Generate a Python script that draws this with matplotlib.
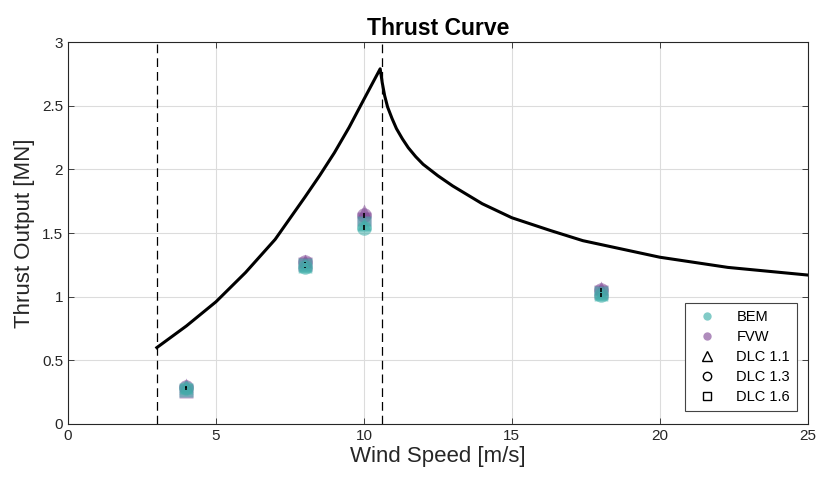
import numpy as np
import matplotlib.pyplot as plt

plt.rcParams['font.family'] = ['Liberation Sans', 'DejaVu Sans']

# steady thrust curve [MN] vs wind speed [m/s]
curve_ws = [3, 4, 5, 6, 7, 8, 8.5, 9, 9.5, 10, 10.55, 10.62, 10.7, 10.8, 10.95,
            11.1, 11.3, 11.5, 11.75, 12.0, 12.5, 13, 14, 15, 16.3, 17.4, 18.6,
            20, 22.3, 25]
curve_thrust = [0.60, 0.77, 0.96, 1.19, 1.45, 1.78, 1.95, 2.13, 2.33, 2.55, 2.79,
                2.68, 2.58, 2.49, 2.40, 2.32, 2.24, 2.17, 2.10, 2.04, 1.95, 1.87,
                1.73, 1.62, 1.52, 1.44, 1.38, 1.31, 1.23, 1.17]

cut_in = 3
rated = 10.6

# simulated mean thrust per load case
sim_ws = [4, 8, 10, 18]
bem_dlc11 = [0.29, 1.24, 1.57, 1.02]
bem_dlc13 = [0.28, 1.23, 1.54, 1.01]
bem_dlc16 = [0.27, 1.25, 1.58, 1.03]
fvw_dlc11 = [0.31, 1.28, 1.67, 1.07]
fvw_dlc13 = [0.29, 1.27, 1.64, 1.05]
fvw_dlc16 = [0.26, 1.26, 1.61, 1.04]
bem_std13 = [0.01, 0.005, 0.02, 0.015]
fvw_std13 = [0.01, 0.005, 0.02, 0.015]

bem_color = '#3fb0aa'
fvw_color = '#7a3f90'

fig = plt.figure(figsize=(8.2, 4.78), dpi=100)
ax = fig.add_axes([0.083, 0.113, 0.902, 0.799])

ax.plot(curve_ws, curve_thrust, color='k', lw=2.2, zorder=3)
ax.axvline(cut_in, color='k', ls=(0, (7, 4)), lw=0.9, zorder=2)
ax.axvline(rated, color='k', ls=(0, (7, 4)), lw=0.9, zorder=2)

ms = 10.5
for vals, mk in [(fvw_dlc11, '^'), (fvw_dlc13, 'o'), (fvw_dlc16, 's')]:
    ax.plot(sim_ws, vals, ls='none', marker=mk, ms=ms, color=fvw_color,
            alpha=0.5, mec='none', zorder=4)
for vals, mk in [(bem_dlc11, '^'), (bem_dlc13, 'o'), (bem_dlc16, 's')]:
    ax.plot(sim_ws, vals, ls='none', marker=mk, ms=ms, color=bem_color,
            alpha=0.55, mec='none', zorder=4)
ax.errorbar(sim_ws, bem_dlc13, yerr=bem_std13, ls='none', color='k', lw=1.2,
            capsize=0, zorder=5)
ax.errorbar(sim_ws, fvw_dlc13, yerr=fvw_std13, ls='none', color='k', lw=1.2,
            capsize=0, zorder=5)

# legend proxies
h = [
    ax.plot([], [], ls='none', marker='o', ms=6, color=bem_color, alpha=0.65, mec='none')[0],
    ax.plot([], [], ls='none', marker='o', ms=6, color=fvw_color, alpha=0.6, mec='none')[0],
    ax.plot([], [], ls='none', marker='^', ms=7, mfc='none', mec='k')[0],
    ax.plot([], [], ls='none', marker='o', ms=6, mfc='none', mec='k')[0],
    ax.plot([], [], ls='none', marker='s', ms=5.5, mfc='none', mec='k')[0],
]
leg = ax.legend(h, ['BEM', 'FVW', 'DLC 1.1', 'DLC 1.3', 'DLC 1.6'],
                loc='lower right', bbox_to_anchor=(0.986, 0.034), borderaxespad=0,
                fontsize=10.5, fancybox=False, framealpha=1, edgecolor='#444444',
                handletextpad=1.0, borderpad=0.5, labelspacing=0.4)
leg.get_frame().set_linewidth(0.8)

ax.set_xlim(0, 25)
ax.set_ylim(0, 3)
ax.set_xticks([0, 5, 10, 15, 20, 25])
ax.set_yticks([0, 0.5, 1, 1.5, 2, 2.5, 3])
ax.set_yticklabels(['0', '0.5', '1', '1.5', '2', '2.5', '3'])
ax.grid(True, color='#dcdcdc', lw=0.8)
ax.set_axisbelow(True)
ax.tick_params(direction='in', top=True, right=True, labelsize=11,
               colors='#262626', length=4, width=0.6)
for s in ax.spines.values():
    s.set_color('#262626')
    s.set_linewidth(0.8)

ax.set_xlabel('Wind Speed [m/s]', fontsize=16, color='#262626', labelpad=2)
ax.set_ylabel('Thrust Output [MN]', fontsize=16, color='#262626', labelpad=5)
ax.set_title('Thrust Curve', fontsize=16.5, fontweight='bold', pad=5)

fig.savefig('out.png', dpi=100)
